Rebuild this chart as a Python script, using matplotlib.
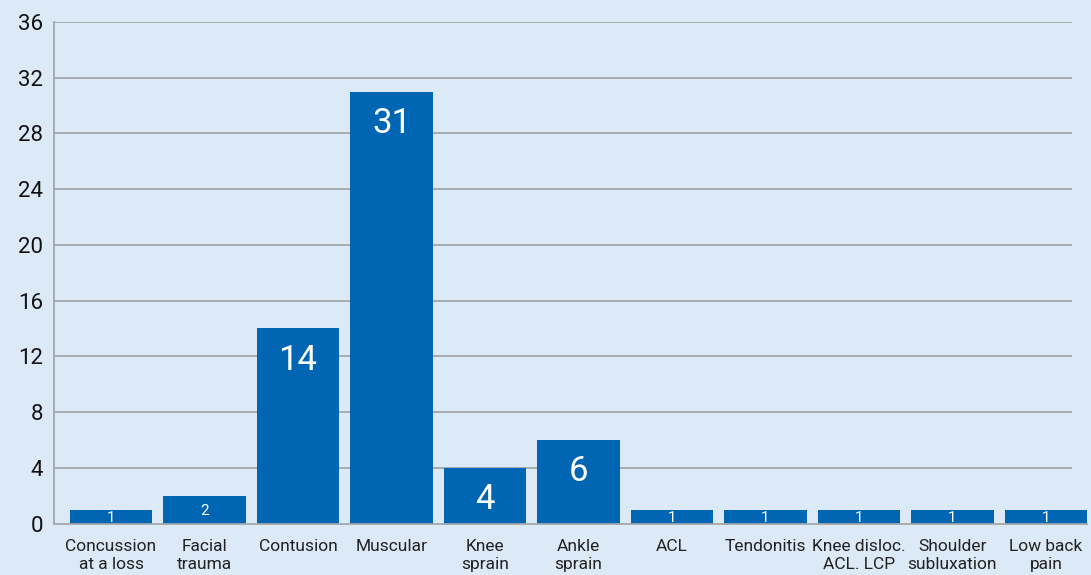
import matplotlib
matplotlib.use("Agg")
import matplotlib.pyplot as plt

categories = [
    "Concussion\nat a loss", "Facial\ntrauma", "Contusion", "Muscular",
    "Knee\nsprain", "Ankle\nsprain", "ACL", "Tendonitis",
    "Knee disloc.\nACL. LCP", "Shoulder\nsubluxation", "Low back\npain",
]
counts = [1, 2, 14, 31, 4, 6, 1, 1, 1, 1, 1]
y_ticks = [0, 4, 8, 12, 16, 20, 24, 28, 32, 36]

BG = "#dceaf7"
BAR = "#0066b3"
GRID = "#a3a7ab"

plt.rcParams["font.family"] = ["Roboto", "DejaVu Sans"]

fig = plt.figure(figsize=(10.91, 5.75), dpi=100, facecolor=BG)
ax = fig.add_axes([54 / 1091, 1 - 523.5 / 575, (1087 - 54) / 1091, (523.5 - 22) / 575])
ax.set_facecolor(BG)

x = list(range(len(categories)))
ax.set_xlim(-0.61, len(categories) - 0.56)
ax.set_ylim(0, 36)

# horizontal grid lines
ax.hlines([t for t in y_ticks if t > 0], -0.61, len(categories) - 0.72,
          color=GRID, linewidth=1.3, zorder=1)

ax.bar(x, counts, width=0.88, color=BAR, zorder=2)

for xi, v in zip(x, counts):
    if v >= 4:
        ax.annotate(str(v), (xi, v), xytext=(0, -32), textcoords="offset pixels",
                    ha="center", va="center", color="white", fontsize=25, zorder=3)
    else:
        # small counts: digits centred vertically inside the short bar
        fs = 11
        cap = 0.711 * fs * 100 / 72
        ax.annotate(str(v), (xi, v / 2), xytext=(0, -cap / 2), textcoords="offset pixels",
                    ha="center", va="baseline", color="white", fontsize=fs, zorder=3)

ax.set_yticks(y_ticks)
ax.set_yticklabels([str(t) for t in y_ticks], fontsize=16, color="#111111")
ax.set_xticks(x)
ax.set_xticklabels(categories, fontsize=12.5, color="#222222", linespacing=1.25)
ax.tick_params(axis="both", length=0)
ax.tick_params(axis="y", pad=8)
ax.tick_params(axis="x", pad=11)

for side in ("top", "right"):
    ax.spines[side].set_visible(False)
for side in ("left", "bottom"):
    ax.spines[side].set_color(GRID)
    ax.spines[side].set_linewidth(1.3)

fig.savefig("out.png", dpi=100, facecolor=BG)
